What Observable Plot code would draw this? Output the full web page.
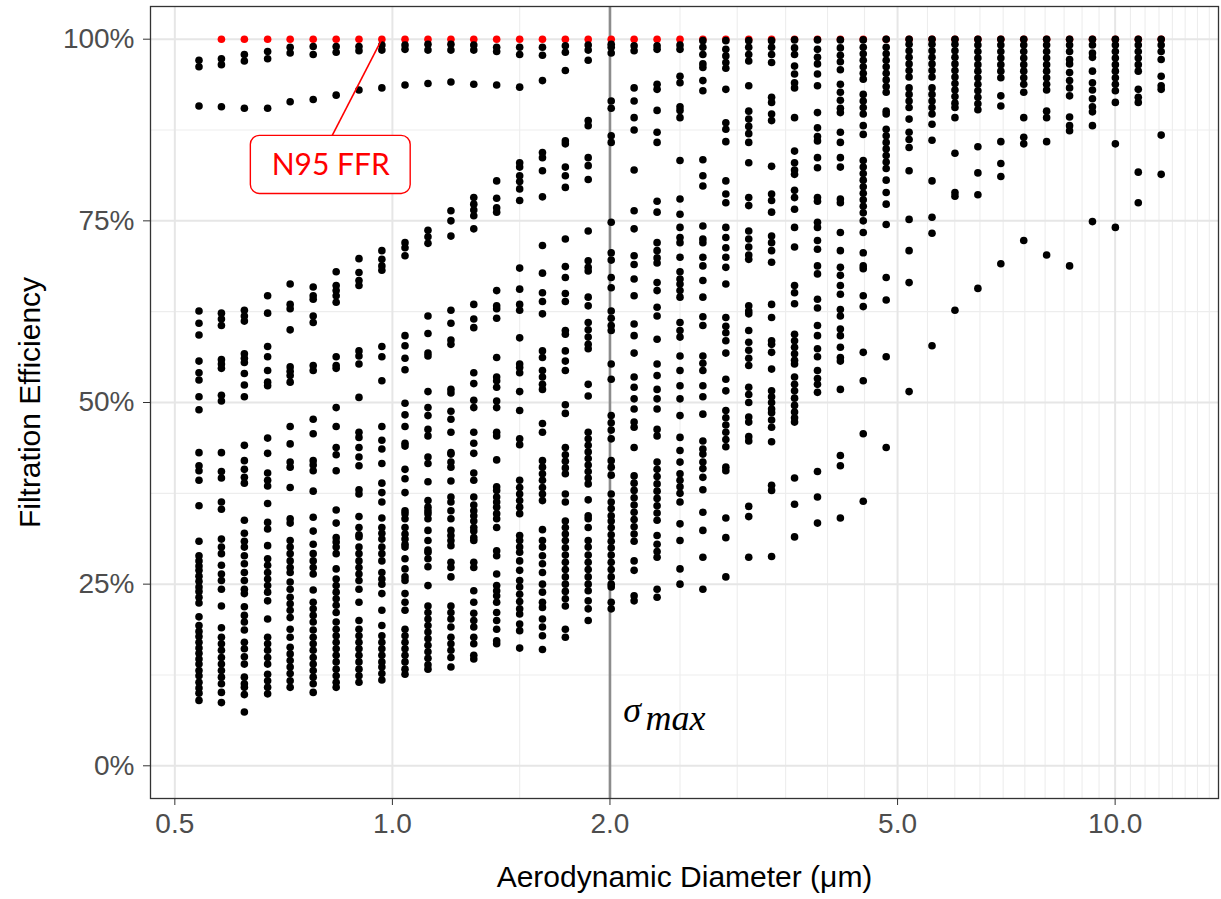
<!DOCTYPE html>
<html><head><meta charset="utf-8">
<script src="https://cdn.jsdelivr.net/npm/d3@7"></script>
<script src="https://cdn.jsdelivr.net/npm/@observablehq/plot@0.6"></script>
<style>body{margin:0;background:#fff;}</style>
</head><body><div id="chart"></div>
<script>
// Aerodynamic diameter bins (µm)
const diameters = [0.54, 0.58, 0.624, 0.672, 0.722, 0.777, 0.836, 0.899, 0.967, 1.041, 1.12, 1.205, 1.296, 1.394, 1.5, 1.613, 1.735, 1.866, 2.008, 2.16, 2.324, 2.5, 2.689, 2.893, 3.112, 3.347, 3.601, 3.874, 4.167, 4.482, 4.822, 5.187, 5.58, 6.003, 6.458, 6.948, 7.474, 8.039, 8.649, 9.303, 10.007, 10.765, 11.58];

// Filtration efficiency (%) of the tested materials, one list per bin
const efficiency = [
 [97.1,96.2,90.8,62.6,60.9,59.3,55.7,54.1,53.1,50.8,49.0,43.1,41.3,40.6,39.3,35.8,30.9,28.9,28.2,27.5,26.9,26.1,25.4,24.6,24.0,23.2,22.4,20.5,19.3,18.5,17.8,17.0,16.2,15.5,14.7,14.0,13.1,12.4,11.5,10.7,10.0,9.0],
 [97.3,96.5,90.7,62.3,61.5,60.6,55.9,55.3,54.7,51.0,50.2,43.1,40.5,39.6,36.3,35.3,31.2,30.1,29.2,27.6,26.4,25.5,24.3,22.0,19.0,17.7,16.8,15.9,14.9,14.0,13.1,12.2,11.3,10.1,8.7],
 [97.9,97.0,90.5,62.7,61.9,61.2,56.7,56.1,55.5,54.0,52.4,50.8,44.1,42.0,40.8,39.7,38.9,33.8,32.0,30.9,30.1,28.9,27.8,26.6,25.5,24.3,23.7,21.9,20.7,19.8,18.7,17.0,16.1,15.0,14.0,12.2,11.3,10.8,9.8,7.4],
 [98.3,97.3,90.5,64.7,62.3,57.7,56.3,54.4,52.8,52.3,45.1,43.0,40.3,39.3,38.5,36.1,33.5,32.6,30.3,28.5,27.6,26.6,25.7,24.8,23.9,22.7,20.2,17.7,16.8,15.9,14.9,14.0,12.6,11.7,10.8,9.9],
 [98.9,98.1,91.4,66.3,63.5,62.9,60.0,54.9,54.3,53.7,52.8,46.7,44.3,41.8,41.1,38.3,34.0,33.4,31.0,30.1,29.2,28.2,27.3,26.6,25.3,24.3,23.2,22.3,21.4,20.4,18.8,17.7,16.3,15.4,14.5,13.6,12.7,11.7,10.8],
 [99.0,97.9,91.7,65.9,64.7,64.2,61.9,61.0,55.1,54.4,47.7,45.7,42.0,41.4,40.6,37.8,34.2,32.3,30.5,29.2,28.2,27.3,26.4,24.2,22.5,21.6,20.7,19.8,18.7,17.7,16.8,15.9,14.9,14.0,13.1,12.2,11.3,10.1],
 [99.0,98.2,92.3,68.0,66.1,65.4,64.7,63.8,56.3,55.1,54.7,49.3,46.7,43.8,42.8,40.6,35.2,33.4,31.4,30.8,30.1,29.2,27.1,25.7,24.8,23.9,23.0,22.1,21.1,19.8,18.8,17.9,17.0,16.1,15.2,14.3,13.3,12.4,11.5,10.8],
 [99.0,98.4,93.0,69.8,67.9,66.8,66.1,57.1,56.4,55.3,50.7,45.9,45.2,43.8,42.5,41.3,38.0,37.4,34.3,32.8,31.8,31.5,30.1,29.2,28.2,27.3,26.4,25.5,24.3,22.5,20.0,18.8,17.9,17.0,16.1,15.2,14.3,13.3,12.4,11.5],
 [99.2,98.5,93.3,70.9,69.7,68.8,68.2,57.7,56.3,53.0,46.7,44.8,43.6,41.6,38.9,37.6,36.3,34.1,32.8,32.0,31.2,30.1,29.2,28.2,26.6,25.7,25.0,23.7,21.4,19.3,17.9,17.0,16.1,15.2,14.3,13.6,12.7,11.8],
 [99.2,98.6,93.7,72.0,71.3,70.2,59.2,57.8,56.1,54.5,49.9,48.3,46.7,44.4,44.0,40.8,39.5,37.6,35.1,34.7,34.0,32.8,31.9,31.2,30.5,30.1,28.5,27.1,26.0,25.5,23.7,22.5,21.4,18.8,17.9,17.0,16.1,15.2,14.3,13.3,12.6],
 [99.3,98.5,93.9,73.7,72.8,71.9,61.9,59.5,56.8,56.4,51.5,49.3,48.2,46.3,45.4,42.5,41.6,39.1,36.5,35.6,35.1,34.7,34.0,32.4,31.0,29.7,29.4,28.5,27.4,24.8,22.0,21.1,20.2,19.3,18.4,17.5,16.6,15.7,14.8,13.9,13.3],
 [99.3,98.5,94.1,76.4,75.0,72.9,62.7,60.9,58.6,58.0,51.8,51.3,48.8,47.7,45.9,43.1,42.9,41.8,41.1,39.2,37.0,36.3,35.1,34.0,32.4,31.7,31.0,30.3,28.0,27.3,26.0,22.0,21.1,20.2,19.1,17.7,16.8,15.9,14.9,13.6],
 [99.2,98.5,93.8,78.2,77.3,76.5,75.7,73.9,63.5,61.5,60.3,54.1,52.6,50.3,49.3,45.9,44.4,43.0,40.3,39.3,37.0,35.9,35.1,34.4,33.7,32.8,32.3,31.4,31.0,28.0,27.3,24.1,22.5,21.0,20.0,19.1,17.7,16.8,15.2,14.7],
 [98.9,98.3,93.7,80.5,78.1,76.8,76.2,65.4,63.3,62.9,61.6,56.2,53.5,53.0,52.1,50.2,49.3,45.9,45.4,42.1,38.4,37.9,37.0,36.3,35.6,34.7,34.0,32.8,29.6,28.9,26.4,24.8,24.1,23.4,22.5,21.1,20.0,18.8,17.2,16.8],
 [98.9,97.9,93.4,83.0,82.4,81.2,80.4,79.4,77.8,68.5,65.6,63.5,62.7,58.9,55.3,54.8,54.1,51.5,48.9,45.0,44.2,39.3,38.3,37.4,36.5,35.6,34.7,31.7,31.0,30.1,29.4,28.2,26.9,25.5,24.6,23.6,22.6,21.6,20.9,19.5,18.6,16.2],
 [98.9,97.8,94.3,84.4,83.7,81.9,78.3,71.6,67.8,65.1,63.9,62.2,57.1,56.2,54.4,53.5,52.5,51.8,47.1,45.9,42.0,41.1,40.2,39.3,38.3,37.4,36.5,32.5,31.0,30.1,28.9,27.8,26.6,25.0,23.9,22.5,21.8,20.2,19.1,17.9,16.0],
 [99.1,98.2,95.7,86.0,85.6,82.4,81.2,79.6,72.5,68.7,67.2,65.0,63.9,59.9,59.4,57.1,55.7,54.4,49.7,48.5,43.8,42.8,41.9,41.0,40.2,37.4,36.3,33.7,32.8,31.9,31.0,30.0,29.0,28.0,27.0,26.0,25.0,24.0,23.0,22.0,18.8,17.7],
 [99.2,98.5,97.1,88.8,88.1,83.7,82.6,80.7,73.6,69.5,68.6,68.1,64.5,63.3,61.0,60.0,59.0,58.0,57.4,52.5,50.9,45.9,45.0,44.1,43.2,42.3,41.4,40.5,39.6,38.8,36.6,34.4,34.0,32.8,31.0,30.1,29.0,28.0,27.0,26.0,25.0,24.1,22.7,21.6,20.0],
 [99.3,98.9,98.1,91.5,90.5,86.7,85.8,74.8,70.6,69.6,67.2,65.8,62.6,61.6,60.6,59.9,55.3,53.2,48.2,47.2,46.2,45.0,42.0,41.1,40.0,37.4,36.3,35.4,34.4,33.7,32.8,31.8,30.9,30.0,29.0,28.0,27.0,26.0,25.0,24.6,22.5,21.6],
 [99.1,98.4,93.3,91.5,89.2,87.5,82.0,76.4,73.9,70.2,69.0,67.0,64.7,60.8,59.2,56.8,53.5,52.1,50.5,49.1,47.3,46.6,43.8,39.9,38.9,37.9,36.9,35.9,34.9,33.9,32.9,31.9,30.9,28.2,26.9,23.4,22.7],
 [99.1,98.6,93.8,93.1,90.2,87.2,85.8,77.7,76.2,72.0,70.9,69.9,69.2,66.5,65.4,63.1,61.9,58.7,55.3,53.7,51.8,50.5,49.1,46.3,45.4,41.8,40.8,39.8,38.8,37.8,36.8,35.8,34.8,33.8,31.7,30.5,29.5,28.7,24.3,23.2],
 [99.2,98.6,94.9,94.0,90.7,90.2,89.2,83.3,78.0,75.9,74.1,72.7,72.0,70.0,68.0,67.0,66.3,65.4,64.5,61.0,59.9,59.0,56.4,54.4,52.3,50.5,48.2,45.2,43.4,41.8,40.2,39.3,38.4,37.5,36.3,33.3,31.0,27.1,25.0],
 [99.8,98.9,97.9,96.6,96.1,94.3,92.9,83.4,81.2,79.8,74.3,72.5,72.0,70.0,68.8,66.8,64.5,61.8,60.6,56.4,55.4,54.4,52.3,50.8,48.4,44.7,43.6,42.9,41.8,40.9,39.7,38.0,34.9,32.4,28.7,24.3],
 [99.8,98.6,97.7,96.8,96.0,93.1,88.5,87.6,85.9,80.5,78.7,77.5,74.1,72.7,71.3,70.0,68.6,66.3,61.7,60.5,59.6,58.5,56.8,53.2,51.6,48.9,47.9,46.9,45.9,44.9,43.9,41.1,40.6,34.1,31.4,26.0],
 [99.8,98.9,97.9,97.0,93.6,90.1,89.0,88.0,87.0,85.8,83.0,78.2,77.1,73.6,72.5,71.4,70.3,69.7,63.3,62.6,62.2,59.9,58.3,57.2,56.1,55.1,52.1,51.1,50.0,48.0,47.3,45.3,44.7,35.7,34.3,28.7],
 [99.8,98.9,97.9,96.8,92.0,91.3,89.7,88.8,82.5,78.7,77.8,76.2,72.9,72.0,70.9,69.3,63.5,61.7,58.5,58.0,56.9,54.6,51.6,50.8,50.0,49.1,48.6,47.6,46.6,44.6,38.6,37.9,28.8],
 [99.9,98.8,97.9,96.3,95.2,94.0,93.3,89.2,84.6,83.0,82.0,81.4,79.2,78.2,76.6,74.1,71.4,66.1,65.1,63.6,59.4,58.5,57.6,56.7,55.8,55.3,53.5,52.5,51.6,50.6,49.6,48.7,47.9,47.3,39.6,36.0,31.5],
 [99.9,98.6,97.5,96.6,95.2,93.6,89.9,87.8,86.6,86.0,83.7,82.3,78.2,77.7,74.8,74.1,72.3,71.1,68.8,67.7,64.2,63.0,60.6,59.2,57.4,56.3,54.4,53.3,52.5,51.4,40.5,37.0,33.4],
 [99.9,98.8,97.8,96.9,95.8,93.8,92.7,91.6,90.5,89.9,87.2,85.8,83.7,82.4,78.0,77.5,73.4,70.9,68.6,67.5,66.1,64.9,62.8,61.9,60.1,59.2,57.6,56.2,55.7,51.8,42.7,41.3,34.1],
 [99.9,98.9,98.0,97.1,96.2,95.3,94.5,92.4,91.5,90.6,89.7,88.1,86.9,83.3,82.4,81.5,80.6,79.7,78.8,77.9,77.0,76.1,75.0,73.4,70.6,68.8,68.4,64.7,63.2,56.9,53.0,45.7,36.4],
 [100,98.9,98.0,97.1,96.2,95.3,94.4,93.5,92.7,90.1,89.7,87.6,86.7,85.8,84.9,84.0,83.1,82.2,80.6,78.9,77.3,74.5,67.2,64.1,56.3,43.8],
 [100,99.3,98.4,97.5,96.6,95.7,94.8,93.3,92.4,91.5,90.6,89.0,87.2,86.2,85.1,81.9,75.2,70.9,66.5,51.5],
 [100,99.3,98.4,97.5,96.6,95.7,94.8,93.3,92.4,91.5,90.6,89.7,88.3,86.1,80.5,75.5,73.3,57.8],
 [100,99.3,98.4,97.5,96.6,95.7,94.8,93.9,93.0,92.1,91.2,90.6,89.2,84.3,78.9,78.4,62.7],
 [100,99.2,98.3,97.4,96.5,95.6,94.7,93.8,92.9,92.0,91.1,90.3,85.2,81.6,78.6,65.7],
 [100,99.2,98.3,97.4,96.5,95.6,94.7,92.2,90.8,85.9,82.9,81.1,69.1],
 [100,99.2,98.3,97.4,96.5,95.6,94.7,93.8,92.7,89.2,86.5,85.6,72.3],
 [100,99.2,98.3,97.4,96.5,95.6,94.7,93.8,93.0,90.1,89.2,85.9,70.3],
 [100,99.2,98.3,97.2,96.6,95.4,94.3,93.3,92.2,89.3,88.1,87.4,68.8],
 [100,99.2,98.1,97.5,95.6,94.0,93.0,91.8,90.7,90.0,88.1,74.9],
 [100,99.2,98.3,97.4,96.5,95.6,94.7,93.8,92.9,91.3,85.6,74.1],
 [100,99.2,98.3,97.4,96.5,95.6,93.1,92.0,91.3,81.7,77.5],
 [100,99.2,98.3,97.2,94.9,93.6,93.1,86.8,81.4]
];

// N95 FFR efficiency (%) for bins 2..43
const n95Diameters = diameters.slice(1);
const n95Efficiency = [100,100,100,100,100,100,100,100,100,100,100,100,100,100,100,100,100,100,100,100,100,100,100,100,100,100,100,100,100,100,100,100,100,100,100,100,100,100,100,100,100,100];

// axes
const xTicks = [0.5, 1, 2, 5, 10];
const xTickLabels = ["0.5", "1.0", "2.0", "5.0", "10.0"];
const xMinor = [1.5, 2.5, 3, 3.5, 4, 4.5, 5.5, 6, 6.5, 7, 7.5, 8, 8.5, 9, 9.5, 10.5, 11, 11.5, 12, 12.5, 13, 13.5];
const yTicks = [0, 25, 50, 75, 100];
const yTickLabels = ["0%", "25%", "50%", "75%", "100%"];
const yMinor = [12.5, 37.5, 62.5, 87.5];
const sigmaMax = 2.0;

// annotation geometry (data units)
const n95Box = [{x1: 0.637, x2: 1.06, y1: 78.7, y2: 86.7}];
const n95Leader = [{x1: 0.967, y1: 100, x2: 0.825, y2: 86.7}];
const n95Label = [{x: 0.8217, y: 82.7, text: "N95 FFR"}];

const points = diameters.flatMap((d, i) => efficiency[i].map(v => ({d, v})));
const n95 = n95Diameters.map((d, i) => ({d, v: n95Efficiency[i]}));

const chart = Plot.plot({
  width: 1221, height: 899,
  marginLeft: 150, marginRight: 3, marginTop: 6, marginBottom: 101,
  style: {fontFamily: "'Liberation Sans', Arial, sans-serif", background: "#fff", overflow: "visible"},
  x: {type: "log", domain: [0.4627, 13.9]},
  y: {domain: [-4.5, 104.5]},
  marks: [
    Plot.ruleX(xMinor, {stroke: "#ededed", strokeWidth: 1.1}),
    Plot.ruleY(yMinor, {stroke: "#ededed", strokeWidth: 1.1}),
    Plot.ruleX(xTicks, {stroke: "#e6e6e6", strokeWidth: 2}),
    Plot.ruleY(yTicks, {stroke: "#e6e6e6", strokeWidth: 2}),
    Plot.ruleX([sigmaMax], {stroke: "#8c8c8c", strokeWidth: 2.6}),
    Plot.dot(n95, {x: "d", y: "v", r: 3.8, fill: "#ff0000", stroke: "none"}),
    Plot.dot(points, {x: "d", y: "v", r: 3.8, fill: "#000", stroke: "none"}),
    Plot.link(n95Leader, {x1: "x1", y1: "y1", x2: "x2", y2: "y2", stroke: "#ff0000", strokeWidth: 1.6}),
    Plot.rect(n95Box, {x1: "x1", x2: "x2", y1: "y1", y2: "y2", fill: "#fff", stroke: "#ff0000", strokeWidth: 1.4, rx: 9}),
    Plot.text(n95Label, {x: "x", y: "y", text: "text", fill: "#ff0000", fontSize: 30, fontFamily: "Lato, 'Open Sans', sans-serif"}),
    Plot.text([{x: 2.087, y: 5.96}], {x: "x", y: "y", text: () => "σ", textAnchor: "start", lineAnchor: "bottom", fontSize: 36, fontStyle: "italic", fontFamily: "'Liberation Serif', 'DejaVu Serif', serif", fill: "#000"}),
    Plot.text([{x: 2.239, y: 4.9}], {x: "x", y: "y", text: () => "max", textAnchor: "start", lineAnchor: "bottom", fontSize: 36, fontStyle: "italic", fontFamily: "'Liberation Serif', 'DejaVu Serif', serif", fill: "#000"}),
    Plot.frame({stroke: "#333", strokeWidth: 1.3}),
    Plot.axisX({ticks: xTicks, tickFormat: d => xTickLabels[xTicks.indexOf(d)], tickSize: 7, tickPadding: 8, fontSize: 28, color: "#4d4d4d", stroke: "#333", label: null}),
    Plot.axisY({ticks: yTicks, tickFormat: d => yTickLabels[yTicks.indexOf(d)], tickSize: 7, tickPadding: 9, fontSize: 28, color: "#4d4d4d", stroke: "#333", label: null}),
    Plot.text(["Aerodynamic Diameter (μm)"], {frameAnchor: "bottom", dy: 79, fontSize: 30, fill: "#000", textAnchor: "middle", lineAnchor: "middle"}),
    Plot.text(["Filtration Efficiency"], {frameAnchor: "left", dx: -120, rotate: -90, fontSize: 30, fill: "#000", textAnchor: "middle", lineAnchor: "middle"})
  ]
});
document.getElementById("chart").appendChild(chart);
</script>
</body></html>
